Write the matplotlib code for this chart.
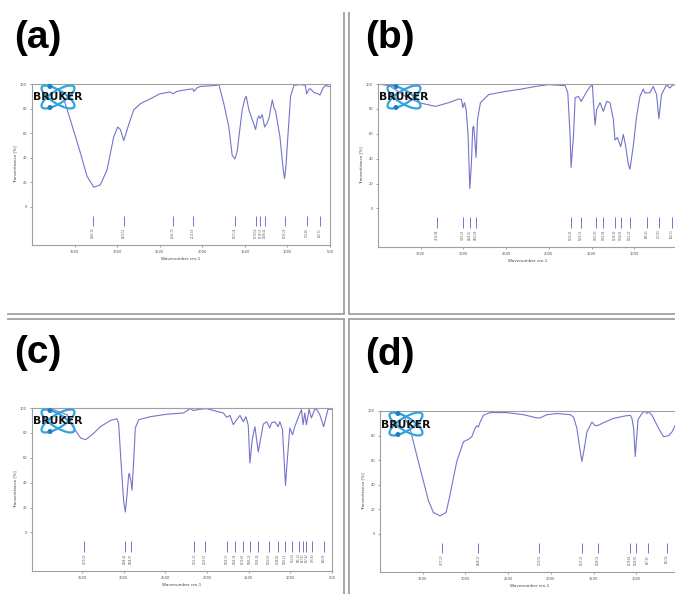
import numpy as np
import matplotlib.pyplot as plt
from matplotlib.patches import Ellipse, Circle

# espectros FTIR (numero de onda, transmitancia %)
wn_a = [4000, 3785, 3648, 3550, 3432, 3354, 3275, 3197, 3119, 3040, 2993, 2962, 2923, 2864, 2805,
        2727, 2609, 2499, 2380, 2342, 2300, 2178, 2111, 2099, 2060, 2021, 1900, 1825, 1805, 1747,
        1688, 1649, 1617, 1590, 1570, 1531, 1500, 1484, 1453, 1413, 1374, 1350, 1335, 1319, 1296,
        1268, 1240, 1217, 1178, 1155, 1139, 1088, 1049, 1033, 1015, 1002, 963, 923, 850, 790,
        774, 745, 727, 688, 640, 618, 580, 551, 520, 500]
t_a = [100, 99, 92.5, 71, 44, 25, 16, 18, 30, 57, 65, 63, 54, 67, 79,
       84, 88, 92, 93.5, 92, 94, 95.5, 96, 94, 97, 98, 98.5, 99, 99.5, 84,
       65, 42, 39, 45, 57, 79, 88, 90, 79, 71, 63, 72, 74, 72, 75,
       65, 68, 72, 87, 80, 78, 57, 30, 23, 35, 50, 90, 99, 99.5, 99,
       92, 96, 96, 93, 92, 91, 97, 99, 98, 98]

wn_b = [4000, 3871, 3676, 3521, 3326, 3171, 3054, 3023, 3007, 2988, 2968, 2945, 2925, 2906, 2891,
        2879, 2867, 2852, 2836, 2801, 2704, 2509, 2315, 2159, 2004, 1809, 1778, 1751, 1740, 1712,
        1692, 1654, 1622, 1556, 1517, 1490, 1478, 1459, 1440, 1401, 1362, 1323, 1284, 1245, 1226,
        1198, 1159, 1128, 1101, 1070, 1051, 1012, 973, 934, 895, 876, 817, 778, 739, 712,
        681, 623, 584, 545, 500]
t_b = [100, 98.7, 90, 85, 82, 85, 88, 87.5, 81, 85, 79.5, 58, 16, 37, 65,
       66, 55, 41, 71, 85, 91.5, 94, 96, 98, 99.5, 98.7, 92.8, 58, 33, 58,
       89, 90, 86, 94, 98, 99, 85, 67, 79.5, 85, 78, 86, 85, 71.5, 55,
       57, 49.6, 59.5, 50, 35.5, 31.5, 50, 74, 90, 96, 92.8, 93, 98, 91.5, 72,
       91.5, 99.5, 96.8, 99.5, 99]

wn_c = [4100, 3877, 3678, 3598, 3518, 3458, 3379, 3279, 3159, 3080, 3060, 3032, 3000, 2980, 2960,
        2940, 2932, 2912, 2900, 2880, 2860, 2820, 2681, 2482, 2282, 2202, 2163, 2083, 2003, 1883,
        1804, 1764, 1724, 1684, 1644, 1604, 1565, 1533, 1505, 1485, 1457, 1425, 1385, 1325, 1285,
        1246, 1226, 1186, 1146, 1126, 1094, 1074, 1058, 1038, 1006, 974, 947, 907, 867, 847,
        827, 807, 775, 747, 707, 687, 648, 600, 548, 500]
t_c = [100, 99.5, 94.6, 84, 76, 74.5, 78.5, 85, 90, 91.4, 87, 57, 25, 16.4, 30,
       46, 47.5, 41, 34, 57, 84, 90.6, 93, 95, 96, 99.5, 98, 99, 99.5, 97.3,
       96, 92.5, 94, 86.6, 90.6, 94, 89, 93, 86, 55.8, 75, 85, 64.6, 87, 89,
       84, 88, 89, 85, 89, 82.6, 57, 37.8, 57, 84, 78.5, 85, 92, 98.7, 86.6,
       96, 86.6, 99, 92, 99, 99, 95, 85, 99, 99]

wn_d = [4000, 3883, 3726, 3648, 3570, 3492, 3433, 3375, 3297, 3226, 3180, 3101, 3023, 2965, 2926,
        2887, 2867, 2848, 2828, 2789, 2711, 2516, 2320, 2164, 2125, 2047, 1930, 1773, 1734, 1695,
        1656, 1637, 1617, 1578, 1519, 1480, 1441, 1383, 1266, 1129, 1070, 1051, 1031, 1012, 996,
        980, 934, 895, 875, 855, 816, 738, 680, 621, 582, 543, 500]
t_d = [100, 100, 96.5, 85.8, 64, 43, 27, 17.4, 14.7, 17.4, 32, 59, 75, 77, 79,
       86, 88, 87, 91, 96.5, 98.7, 98.7, 97, 94.4, 94.4, 97, 97.9, 97, 95, 85.8,
       67, 59, 66, 83, 91, 88, 88.5, 90.5, 94, 96, 96.5, 94, 85.8, 63, 78,
       93, 98, 100, 98, 99.5, 96.5, 85.8, 79, 80, 83, 88.5, 93]

# picos marcados pelo OPUS
picos_a = [3283.10, 2923.51, 2342.70, 2111.63, 1617.24, 1374.52, 1319.13, 1268.42, 1033.25, 774.26, 618.71]
picos_b = [3315.08, 3007.23, 2926.05, 2852.69, 1743.41, 1622.13, 1451.83, 1362.04, 1226.30, 1156.03,
           1051.20, 856.41, 712.93, 564.33]
picos_c = [3470.20, 2988.42, 2908.70, 2151.22, 2023.51, 1764.13, 1664.34, 1572.63, 1485.12, 1393.24,
           1254.51, 1146.82, 1066.23, 974.34, 895.14, 847.61, 807.42, 735.93, 600.35]
picos_d = [3277.23, 2848.11, 2133.51, 1637.22, 1449.13, 1078.64, 1008.92, 867.35, 641.92]

xticks = [3500, 3000, 2500, 2000, 1500, 1000, 500]
yticks = [0, 20, 40, 60, 80, 100]
rotulos = ['(a)', '(b)', '(c)', '(d)']

W, H = 675, 594
cor = '#7474cc'
cinza = '#a0a0a0'

fig = plt.figure(figsize=(W/100, H/100), dpi=100)

def caixa(l, t, r, b):
    return [l/W, 1-b/H, (r-l)/W, (b-t)/H]

# (caixa em pixels, limite esquerdo em x, paineis da direita sao cortados na borda)
paineis = [
    (caixa(32, 84, 330, 245), 4000, wn_a, t_a, picos_a, xticks),
    (caixa(378, 84, 677, 247), 4000, wn_b, t_b, picos_b, xticks[:-1]),
    (caixa(32, 408, 332, 571), 4100, wn_c, t_c, picos_c, xticks),
    (caixa(380, 411, 679, 572), 4000, wn_d, t_d, picos_d, xticks[:-1]),
]

for pos, x0, wn, t, picos, xt in paineis:
    ax = fig.add_axes(pos)
    ax.plot(wn, t, color=cor, lw=0.8)
    ax.vlines(picos, -15.5, -7, color=cor, lw=0.7)
    for p in picos:
        ax.text(p, -17, '%.2f' % p, rotation=90, ha='center', va='top', fontsize=1.8, color='#555555')
    ax.set_xlim(x0, 500)
    ax.set_ylim(-31, 100)
    ax.set_xticks(xt)
    ax.set_yticks(yticks)
    ax.tick_params(labelsize=2.6, length=1.5, width=0.4, pad=2, colors='#555555')
    for s in ax.spines.values():
        s.set_color(cinza)
        s.set_linewidth(0.8)
    ax.set_xlabel('Wavenumber cm-1', fontsize=3, color='#444444', labelpad=2)
    ax.set_ylabel('Transmittance [%]', fontsize=3, color='#444444', labelpad=2)

# camada em pixels para rotulos, logos e divisorias
ov = fig.add_axes([0, 0, 1, 1], zorder=10)
ov.set_xlim(0, W)
ov.set_ylim(H, 0)
ov.axis('off')
ov.patch.set_alpha(0)

# divisorias duplas
for x in [343.5, 349]:
    ov.plot([x, x], [13, 313], color=cinza, lw=1.3)
    ov.plot([x, x], [319, H], color=cinza, lw=1.3)
for y in [313.5, 319]:
    ov.plot([8, 343.5], [y, y], color=cinza, lw=1.3)
    ov.plot([349, W], [y, y], color=cinza, lw=1.3)

# rotulos dos paineis
for (x, y), r in zip([(14, 38), (365, 38), (14, 353), (365, 355)], rotulos):
    ov.text(x, y, r, fontsize=28, fontweight='bold', family='Liberation Sans', va='center', ha='left')

# logo BRUKER
for l, t in [(32, 84), (378, 84), (32, 408), (380, 411)]:
    cx, cy = l + 26, t + 13
    for ang in [32, -32]:
        ov.add_patch(Ellipse((cx, cy), 38, 13, angle=ang, fill=False, ec='#33a3dc', lw=1.6))
    for dy in [-10.5, 10.5]:
        ov.add_patch(Circle((cx - 8, cy + dy), 1.8, color='#1f7fc4'))
    ov.text(cx, cy + 0.5, 'BRUKER', fontsize=7.8, fontweight='bold', family='DejaVu Sans',
            ha='center', va='center', color='#111111')

plt.savefig('out.png', dpi=100, facecolor='white')
